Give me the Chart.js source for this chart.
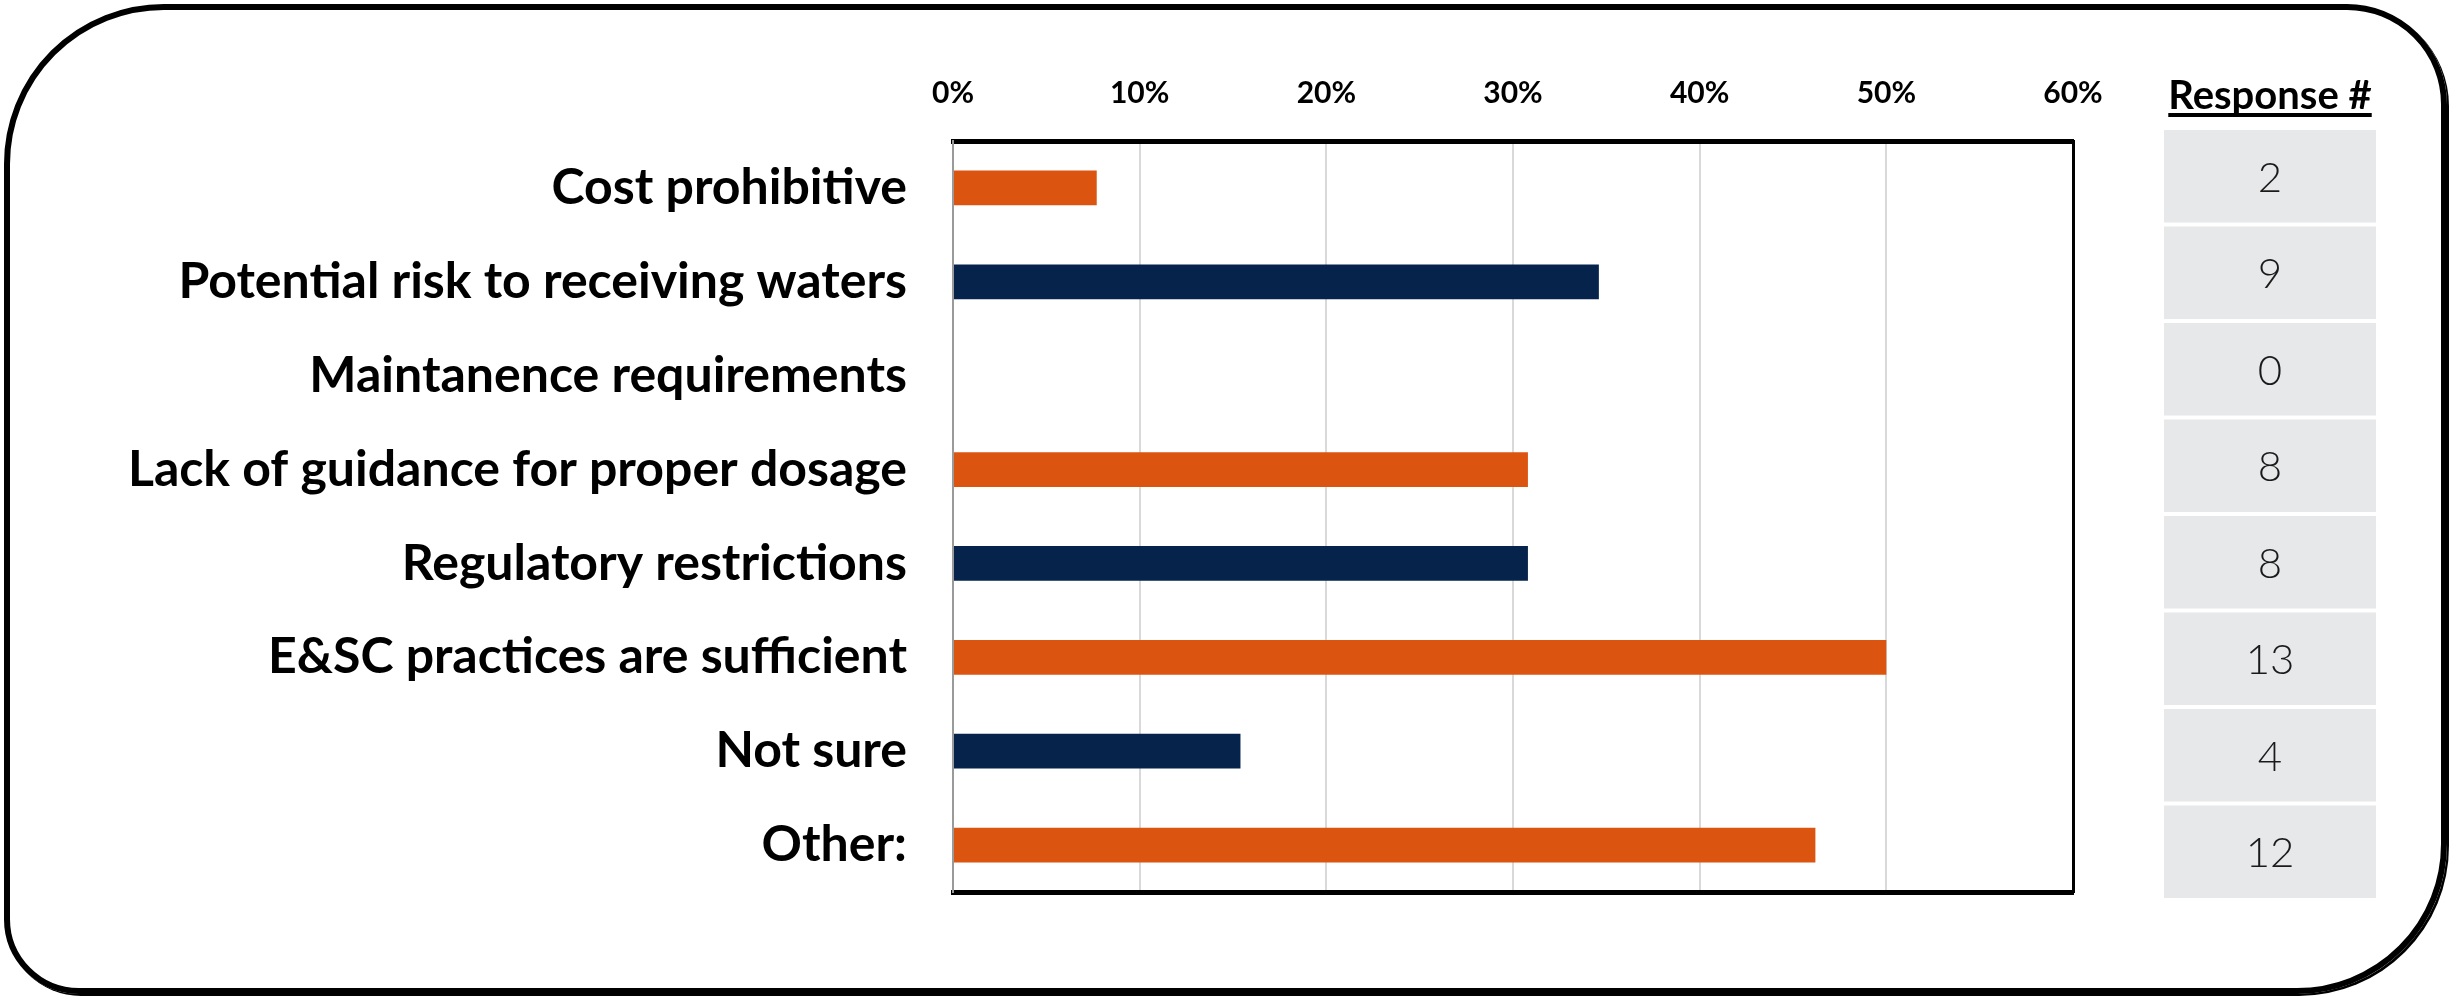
<!DOCTYPE html>
<html>
<head>
<meta charset="utf-8">
<script src="https://cdn.jsdelivr.net/npm/chart.js@4"></script>
<style>
  html, body { margin: 0; padding: 0; background: #fff; }
  #wrap { position: relative; width: 2453px; height: 1000px; }
  #frame {
    position: absolute; left: 4px; top: 4px; right: 6px; bottom: 6px;
    border: 6px solid #000;
    border-radius: 160px 100px 150px 75px;
    box-shadow: 2px 2px 0 #000;
  }
  #chart { position: absolute; left: 0; top: 0; }
</style>
</head>
<body>
<div id="wrap">
  <div id="frame"></div>
  <canvas id="chart" width="2453" height="1000"></canvas>
</div>
<script>
// Data
const categories = ["Cost prohibitive", "Potential risk to receiving waters", "Maintanence requirements",
  "Lack of guidance for proper dosage", "Regulatory restrictions", "E&SC practices are sufficient",
  "Not sure", "Other:"];
const sharePct = [7.7, 34.6, 0, 30.8, 30.8, 50.0, 15.4, 46.2];
const responseCounts = [2, 9, 0, 8, 8, 13, 4, 12];
const xTickValues = [0, 10, 20, 30, 40, 50, 60];
const tableTitle = "Response #";

const orange = "#DC5510";
const navy = "#05234B";
const barColors = [orange, navy, orange, orange, navy, orange, navy, orange];
const labelFont = "Lato, 'Open Sans', sans-serif";

// Response # column, drawn next to the plot and aligned with the category rows
const responseTable = {
  id: "responseTable",
  afterDraw(chart) {
    const ctx = chart.ctx;
    const area = chart.chartArea;
    const left = area.right + 91, right = area.right + 303;
    const top = area.top - 13, bottom = area.bottom + 8;
    const step = (bottom - top) / responseCounts.length;
    const cx = (left + right) / 2;
    ctx.save();
    ctx.textAlign = "center";
    ctx.textBaseline = "middle";
    ctx.font = "bold 40px " + labelFont;
    ctx.fillStyle = "#000";
    ctx.fillText(tableTitle, cx, 96);
    const w = ctx.measureText(tableTitle).width;
    ctx.fillRect(cx - w / 2, 113, w, 4);
    ctx.font = "300 42px " + labelFont;
    responseCounts.forEach((n, i) => {
      const y0 = top + i * step;
      ctx.fillStyle = "#E7E8EA";
      ctx.fillRect(left, y0 + 2, right - left, step - 4);
      ctx.fillStyle = "#1a1a1a";
      ctx.fillText(String(n), cx, y0 + step / 2 + 2);
    });
    ctx.restore();
  }
};

new Chart(document.getElementById("chart"), {
  type: "bar",
  data: {
    labels: categories,
    datasets: [{
      data: sharePct,
      backgroundColor: barColors,
      barPercentage: 0.37,
      categoryPercentage: 1.0
    }]
  },
  options: {
    indexAxis: "y",
    responsive: false,
    animation: false,
    layout: { padding: 0 },
    plugins: { legend: { display: false }, tooltip: { enabled: false } },
    scales: {
      x: {
        position: "top",
        min: 0, max: 60,
        afterBuildTicks: s => { s.ticks = xTickValues.map(v => ({ value: v })); },
        afterFit: s => { s.height = 141; },
        ticks: {
          callback: v => v + "%",
          color: "#000",
          font: { family: labelFont, weight: "bold", size: 30 },
          padding: 30
        },
        grid: {
          drawTicks: false,
          lineWidth: 2,
          color: ctx => ctx.index === 0 ? "#9a9a9a" : "#d9d9d9"
        },
        border: { color: "#000", width: 5 }
      },
      xb: {
        axis: "x",
        position: "bottom",
        min: 0, max: 60,
        afterFit: s => { s.height = 108; },
        ticks: { display: false },
        grid: { display: false, drawTicks: false },
        border: { color: "#000", width: 5 }
      },
      y: {
        afterFit: s => { s.width = 953; },
        ticks: {
          color: "#000",
          font: { family: labelFont, weight: "bold", size: 50 },
          padding: 46,
          autoSkip: false
        },
        grid: { display: false, drawTicks: false },
        border: { color: "#9a9a9a", width: 2 }
      },
      yr: {
        type: "category",
        position: "right",
        afterFit: s => { s.width = 380; },
        ticks: { display: false },
        grid: { display: false, drawTicks: false },
        border: { color: "#000", width: 3 }
      }
    }
  },
  plugins: [responseTable]
});
</script>
</body>
</html>
